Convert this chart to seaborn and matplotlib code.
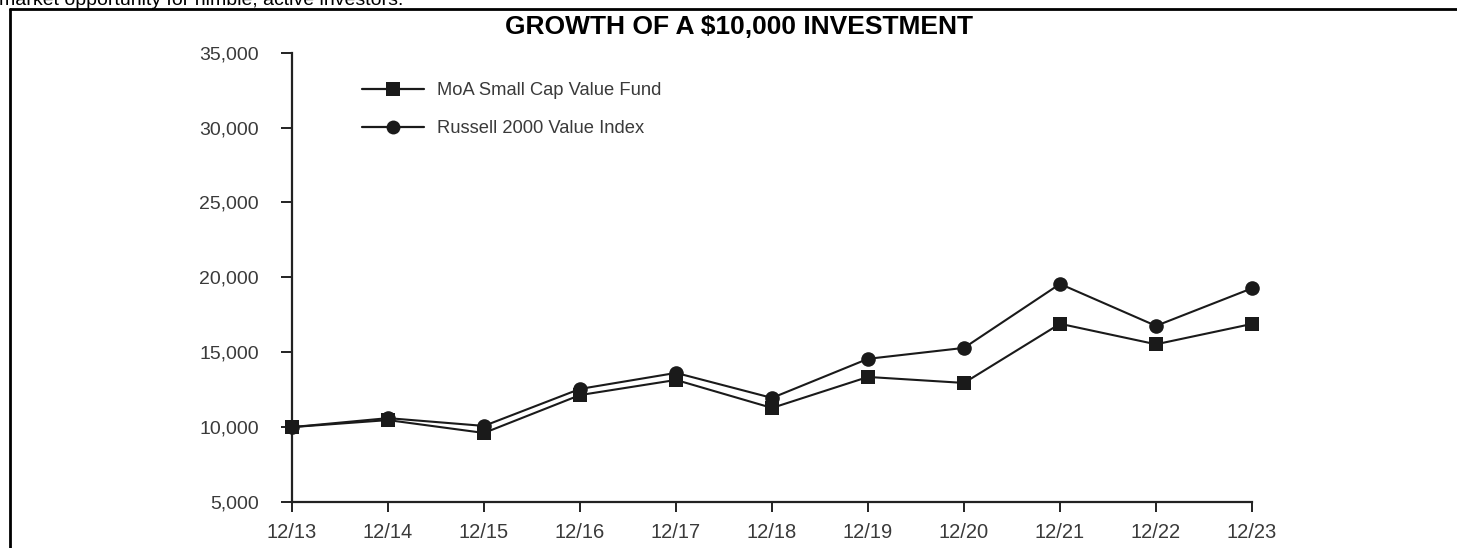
import matplotlib
matplotlib.use("Agg")
import matplotlib.pyplot as plt
import seaborn as sns
import pandas as pd
from matplotlib.ticker import FuncFormatter
from matplotlib.lines import Line2D

periods = ["12/13", "12/14", "12/15", "12/16", "12/17", "12/18",
           "12/19", "12/20", "12/21", "12/22", "12/23"]
fund = [10000, 10470, 9610, 12140, 13150, 11280, 13350, 12950, 16900, 15530, 16890]
index = [10000, 10600, 10080, 12550, 13620, 11950, 14560, 15290, 19560, 16760, 19270]
yticks = [5000, 10000, 15000, 20000, 25000, 30000, 35000]
series_names = ["MoA Small Cap Value Fund", "Russell 2000 Value Index"]

df = pd.DataFrame({
    "pos": list(range(len(periods))) * 2,
    "value": fund + index,
    "series": [series_names[0]] * len(periods) + [series_names[1]] * len(periods),
})

sns.set_theme(style="white")
plt.rcParams["font.family"] = ["Liberation Sans", "DejaVu Sans"]

W, H = 1457, 548
fig = plt.figure(figsize=(W / 100, H / 100), dpi=100)
ax = fig.add_axes([292 / W, 1 - 502 / H, (1252 - 292) / W, (502 - 52.7) / H])

sns.lineplot(data=df, x="pos", y="value", hue="series", style="series",
             markers={series_names[0]: "s", series_names[1]: "o"},
             dashes=False, palette=["#1a1a1a", "#1a1a1a"], linewidth=1.5,
             markersize=10.5, markeredgewidth=0, ax=ax, legend=False, zorder=3,
             clip_on=False)

ax.set_xlim(0, len(periods) - 1)
ax.set_ylim(5000, 35000)
ax.set_xticks(range(len(periods)))
ax.set_xticklabels(periods)
ax.set_yticks(yticks)
ax.yaxis.set_major_formatter(FuncFormatter(lambda v, p: f"{int(v):,}"))
ax.set_xlabel("")
ax.set_ylabel("")
for s in ["top", "right"]:
    ax.spines[s].set_visible(False)
for s in ["left", "bottom"]:
    ax.spines[s].set_color("#222222")
    ax.spines[s].set_linewidth(1.6)
ax.tick_params(axis="y", direction="out", length=8, width=1.4, color="#222222",
               labelsize=14, labelcolor="#3a3a3a", pad=16, left=True)
ax.tick_params(axis="x", direction="out", length=7, width=1.4, color="#222222",
               labelsize=14.5, labelcolor="#3a3a3a", pad=8, bottom=True)
ax.patch.set_alpha(0)

handles = [Line2D([0], [0], color="#1a1a1a", lw=1.6, marker="s", markersize=10, markeredgewidth=0),
           Line2D([0], [0], color="#1a1a1a", lw=1.6, marker="o", markersize=10, markeredgewidth=0)]
ax.legend(handles, series_names, loc="center left", bbox_to_anchor=(0.073, 0.8736),
          frameon=False, fontsize=13.2, handlelength=3.4, labelspacing=1.15,
          handletextpad=0.7, borderpad=0, borderaxespad=0, labelcolor="#3a3a3a")

fig.text(739 / W, 1 - 27 / H, "GROWTH OF A $10,000 INVESTMENT", ha="center", va="center",
         fontsize=19, fontweight="bold", color="black")
fig.text(-1 / W, 1 - 5 / H, "market opportunity for nimble, active investors.", ha="left",
         va="baseline", fontsize=14, color="black")

# page border
fig.add_artist(Line2D([10 / W, 10 / W], [0, 1 - 9 / H], transform=fig.transFigure,
                      color="black", lw=2))
fig.add_artist(Line2D([10 / W, 1], [1 - 9 / H, 1 - 9 / H], transform=fig.transFigure,
                      color="black", lw=2))

fig.savefig("out.png", dpi=100, facecolor="white")
